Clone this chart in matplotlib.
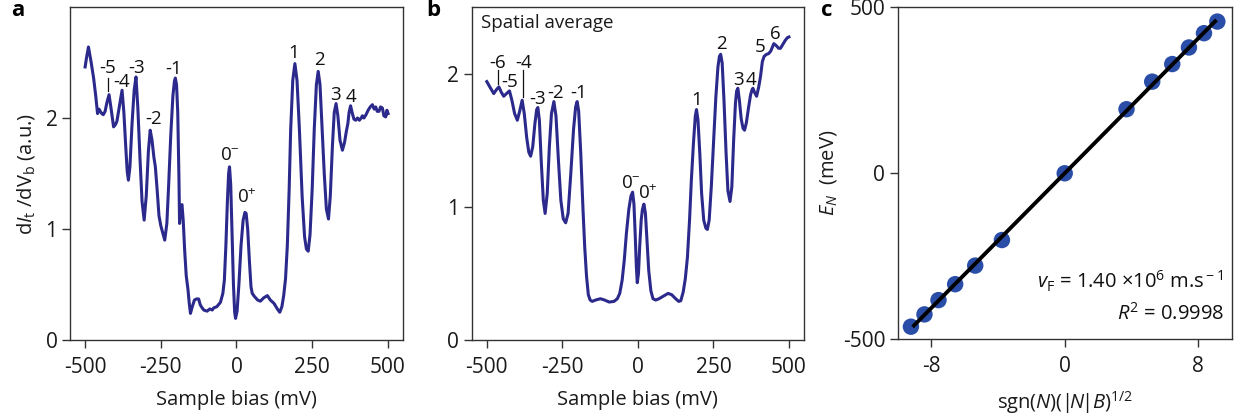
import numpy as np
import matplotlib
matplotlib.use("Agg")
import matplotlib.pyplot as plt

plt.rcParams['font.family'] = ['Open Sans', 'DejaVu Sans']
plt.rcParams['mathtext.fontset'] = 'custom'
plt.rcParams['mathtext.rm'] = 'Open Sans'
plt.rcParams['mathtext.it'] = 'Open Sans:italic'
plt.rcParams['mathtext.bf'] = 'Open Sans:bold'
plt.rcParams['axes.unicode_minus'] = False

# ---------------- data ----------------
# panel a: single spectrum, (bias mV, dI/dV a.u.)
bias_a = [-500, -495, -489, -480, -472, -465, -459, -454, -450, -445, -440, -434, -428, -421,
          -414, -406, -400, -395, -386, -378, -372, -366, -361, -357, -352, -345, -338, -332,
          -326, -319, -312, -305, -298, -291, -285, -279, -273, -268, -262, -256, -250, -244,
          -237, -230, -224, -217, -210, -205, -202, -198, -194, -190, -188, -184, -180, -176,
          -171, -166, -160, -156, -152, -146, -139, -132, -125, -120, -116, -108, -97, -88,
          -80, -75, -65, -53, -45, -40, -35, -30, -26, -23, -19, -15, -10, -6, -3, 2, 8, 15,
          22, 28, 32, 37, 43, 48, 52, 60, 70, 79, 90, 102, 112, 124, 135, 143, 150, 156, 162,
          168, 174, 179, 186, 193, 200, 208, 217, 225, 231, 237, 243, 250, 257, 264, 270, 276,
          282, 290, 297, 304, 310, 317, 323, 329, 335, 342, 350, 357, 363, 368, 372, 377, 382,
          388, 394, 400, 406, 412, 416, 421, 428, 435, 442, 449, 455, 460, 465, 471, 476, 482,
          487, 493, 497, 501]
didv_a = [2.46, 2.55, 2.64, 2.50, 2.36, 2.20, 2.04, 2.08, 2.06, 2.04, 2.03, 2.06, 2.14, 2.21,
          2.08, 1.92, 1.94, 1.97, 2.12, 2.25, 2.05, 1.75, 1.52, 1.44, 1.56, 1.95, 2.25, 2.37,
          2.10, 1.65, 1.25, 1.08, 1.30, 1.70, 1.89, 1.80, 1.65, 1.56, 1.35, 1.12, 1.03, 0.97,
          0.90, 1.05, 1.40, 1.85, 2.20, 2.33, 2.36, 2.30, 2.05, 1.45, 1.05, 1.20, 1.22, 1.08,
          0.80, 0.58, 0.45, 0.33, 0.24, 0.30, 0.36, 0.37, 0.37, 0.32, 0.30, 0.27, 0.26, 0.28,
          0.27, 0.29, 0.30, 0.34, 0.42, 0.54, 0.85, 1.25, 1.50, 1.56, 1.40, 1.00, 0.50, 0.25,
          0.195, 0.26, 0.50, 0.85, 1.08, 1.15, 1.14, 1.00, 0.70, 0.48, 0.42, 0.39, 0.36, 0.35,
          0.38, 0.40, 0.36, 0.33, 0.28, 0.25, 0.30, 0.40, 0.55, 0.85, 1.35, 1.89, 2.34, 2.49,
          2.34, 1.89, 1.29, 0.93, 0.82, 0.80, 0.95, 1.35, 1.90, 2.30, 2.42, 2.30, 1.95, 1.50,
          1.18, 1.09, 1.30, 1.75, 2.05, 2.13, 2.02, 1.80, 1.71, 1.78, 1.88, 1.95, 2.05, 2.11,
          2.05, 1.99, 1.98, 2.00, 1.98, 2.00, 2.02, 2.00, 2.03, 2.07, 2.10, 2.12, 2.08, 2.10,
          2.06, 2.06, 2.10, 2.09, 2.02, 2.01, 2.07, 2.04]

# panel b: spatial average
bias_b = [-500, -490, -477, -468, -460, -452, -444, -435, -425, -417, -408, -399, -391, -383,
          -376, -368, -361, -355, -348, -341, -335, -331, -326, -320, -313, -307, -300, -293,
          -286, -278, -271, -263, -255, -247, -239, -231, -222, -213, -206, -201, -196, -189,
          -182, -176, -170, -164, -158, -151, -140, -124, -110, -95, -79, -68, -60, -52, -45,
          -38, -30, -23, -17.5, -13, -9, -5, -2, 2, 6, 11, 15, 20, 25, 30, 36, 43, 50, 59, 70,
          85, 100, 112, 125, 135, 142, 150, 157, 164, 171, 177, 184, 190, 194, 199, 205, 211,
          218, 225, 230, 236, 243, 251, 258, 265, 270, 274, 279, 285, 292, 298, 305, 311, 317,
          323, 327, 331, 336, 342, 348, 353, 359, 366, 373, 378, 381, 386, 393, 400, 406, 412,
          418, 426, 433, 440, 450, 458, 466, 472, 480, 488, 495, 500]
didv_b = [1.94, 1.90, 1.85, 1.88, 1.90, 1.86, 1.83, 1.85, 1.87, 1.80, 1.70, 1.65, 1.72, 1.80,
          1.70, 1.52, 1.41, 1.38, 1.45, 1.62, 1.73, 1.745, 1.65, 1.35, 1.05, 0.95, 1.10, 1.45,
          1.70, 1.79, 1.68, 1.35, 1.05, 0.91, 0.88, 0.95, 1.25, 1.58, 1.75, 1.79, 1.72, 1.40,
          1.00, 0.70, 0.48, 0.34, 0.30, 0.29, 0.30, 0.31, 0.30, 0.285, 0.29, 0.31, 0.35, 0.45,
          0.60, 0.80, 0.98, 1.08, 1.11, 1.02, 0.80, 0.55, 0.43, 0.50, 0.70, 0.90, 0.98, 1.02,
          0.95, 0.75, 0.52, 0.37, 0.31, 0.30, 0.31, 0.33, 0.35, 0.34, 0.31, 0.29, 0.295, 0.36,
          0.46, 0.62, 0.90, 1.20, 1.48, 1.68, 1.73, 1.65, 1.40, 1.10, 0.90, 0.84, 0.83, 0.90,
          1.15, 1.50, 1.82, 2.05, 2.13, 2.145, 2.08, 1.80, 1.40, 1.12, 1.04, 1.15, 1.50, 1.78,
          1.87, 1.89, 1.80, 1.66, 1.59, 1.575, 1.63, 1.74, 1.84, 1.88, 1.89, 1.86, 1.83, 1.90,
          1.98, 2.09, 2.13, 2.145, 2.15, 2.17, 2.225, 2.21, 2.19, 2.19, 2.22, 2.25, 2.27, 2.275]

# peak labels: (text, bias, value)
labels_a = [("-5", -426, 2.45), ("-4", -379, 2.32), ("-3", -331, 2.45), ("-2", -274, 1.99),
            ("-1", -208, 2.44), ("0$^{-}$", -22, 1.67), ("0$^{+}$", 35, 1.28),
            ("1", 190, 2.59), ("2", 273, 2.52), ("3", 326, 2.21), ("4", 377, 2.19)]
labels_b = [("-6", -466, 2.08), ("-5", -424, 1.94), ("-4", -377, 2.08), ("-3", -333, 1.81),
            ("-2", -272, 1.855), ("-1", -195, 1.855), ("0$^{-}$", -24, 1.18),
            ("0$^{+}$", 33, 1.10), ("1", 194, 1.805), ("2", 277, 2.225), ("3", 334, 1.955),
            ("4", 375, 1.955), ("5", 404, 2.20), ("6", 456, 2.30)]
# leader ticks: (bias, y0, y1)
ticks_a = [(-423, 2.24, 2.36)]
ticks_b = [(-462, 1.925, 2.03), (-381, 1.825, 2.03)]

# panel c: Landau level energies
x_c = [-9.21, -8.40, -7.56, -6.56, -5.36, -3.76, 0.0, 3.70, 5.24, 6.44, 7.44, 8.34, 9.14]
E_c = [-462, -425, -382, -334, -278, -201, 0, 193, 276, 329, 379, 422, 457]

line_col = '#2b2a8c'
dot_col = '#2a4ea8'
spine_col = '#333333'
txt_col = '#1a1a1a'
tick_fs = 15
lab_fs = 14.5
ann_fs = 13.5

fig = plt.figure(figsize=(12.41, 4.19), dpi=100)
ax_a = fig.add_axes([0.0564, 0.1885, 0.2683, 0.7948])
ax_b = fig.add_axes([0.3801, 0.1885, 0.2678, 0.7948])
ax_c = fig.add_axes([0.7234, 0.1902, 0.2691, 0.7924])

def style(ax):
    for s in ax.spines.values():
        s.set_color(spine_col)
        s.set_linewidth(1.0)
    ax.tick_params(direction='out', length=6, width=1.0, color=spine_col,
                   labelsize=tick_fs, labelcolor=txt_col)
    ax.tick_params(axis='x', pad=6)
    ax.tick_params(axis='y', pad=3)

for ax, bx, by, labs, tks, ymax in [(ax_a, bias_a, didv_a, labels_a, ticks_a, 3.0),
                                     (ax_b, bias_b, didv_b, labels_b, ticks_b, 2.5)]:
    ax.plot(bx, by, color=line_col, lw=2.2, solid_joinstyle='round')
    ax.set_xlim(-550, 550)
    ax.set_ylim(0, ymax)
    ax.set_xticks([-500, -250, 0, 250, 500])
    ax.set_yticks([0, 1, 2])
    ax.set_xlabel('Sample bias (mV)', fontsize=lab_fs, color=txt_col, labelpad=9)
    for t, xx, yy in labs:
        ax.text(xx, yy, t, ha='center', va='center', fontsize=ann_fs, color='#111111')
    for xx, y0, y1 in tks:
        ax.plot([xx, xx], [y0, y1], color='#111111', lw=0.9)
    style(ax)

ax_a.set_ylabel(r'd$I_{\rm t}$ /dV$_{\rm b}$ (a.u.)', fontsize=lab_fs, color=txt_col, labelpad=6)
ax_b.text(0.028, 0.951, 'Spatial average', transform=ax_b.transAxes, ha='left', va='center',
          fontsize=ann_fs, color=txt_col)

# panel c
ax_c.scatter(x_c, E_c, s=140, color=dot_col, zorder=2, edgecolors='none')
coef = np.polyfit(x_c, E_c, 1)
xf = np.array([min(x_c) + 0.1, max(x_c) - 0.05])
ax_c.plot(xf, np.polyval(coef, xf), color='black', lw=2.8, zorder=3, solid_capstyle='butt')
ax_c.set_xlim(-10, 10)
ax_c.set_ylim(-500, 500)
ax_c.set_xticks([-8, 0, 8])
ax_c.set_yticks([-500, 0, 500])
ax_c.set_xlabel(r'sgn($N$)($|\!N\!|B$)$^{1/2}$', fontsize=lab_fs, color=txt_col, labelpad=9)
ax_c.set_ylabel(r'$E_N$  (meV)', fontsize=lab_fs, color=txt_col, labelpad=3)
ax_c.text(0.975, 0.173, r'$v_{\rm F}$ = 1.40 ×10$^{6}$ m.s$^{\rm -1}$', transform=ax_c.transAxes,
          ha='right', va='center', fontsize=14.5, color='#111111')
ax_c.text(0.978, 0.078, r'$R^{2}$ = 0.9998', transform=ax_c.transAxes,
          ha='right', va='center', fontsize=14.5, color='#111111')
style(ax_c)

for ch, xx in [('a', 11), ('b', 426), ('c', 821)]:
    fig.text(xx / 1241, 1 - 0 / 419, ch, ha='left', va='top', fontsize=16, fontweight='bold')

fig.savefig('out.png', dpi=100)
